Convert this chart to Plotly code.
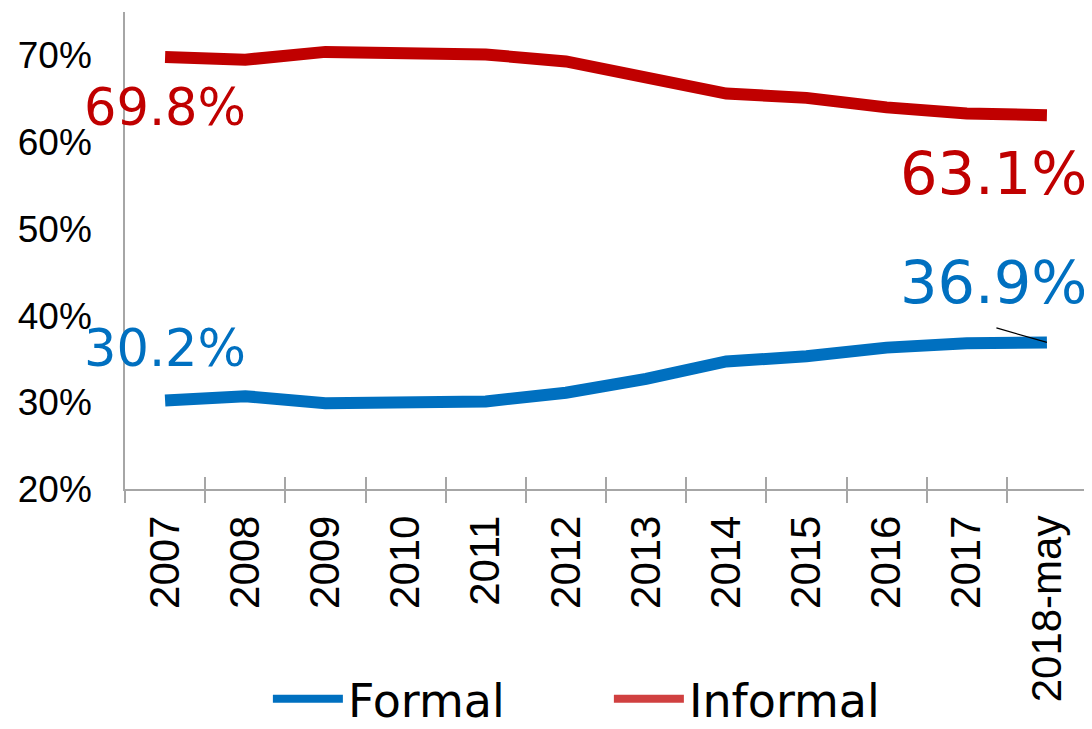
import plotly.graph_objects as go

categories = ["2007", "2008", "2009", "2010", "2011", "2012", "2013", "2014", "2015", "2016", "2017", "2018-may"]
formal = [30.2, 30.7, 29.9, 29.9, 30.1, 31.1, 32.7, 34.7, 35.3, 36.3, 36.8, 36.9]
informal = [69.8, 69.5, 70.4, 70.4, 70.1, 69.3, 67.4, 65.6, 65.1, 64.0, 63.3, 63.1]
series_names = ["Formal", "Informal"]
y_ticks = [20, 30, 40, 50, 60, 70]
y_tick_labels = ["20%", "30%", "40%", "50%", "60%", "70%"]

BLUE = "#0070C0"
RED = "#C00000"
RED_LEGEND = "#D04040"
AXIS = "#A6A6A6"

first = 0
last = len(categories) - 1

fig = go.Figure()
fig.add_trace(go.Scatter(x=categories, y=formal, mode="lines", name=series_names[0],
                         line=dict(color=BLUE, width=12), showlegend=False))
fig.add_trace(go.Scatter(x=categories, y=informal, mode="lines", name=series_names[1],
                         line=dict(color=RED, width=12), showlegend=False))
# legend entries
fig.add_trace(go.Scatter(x=[None], y=[None], mode="lines", name=series_names[0],
                         line=dict(color=BLUE, width=8)))
fig.add_trace(go.Scatter(x=[None], y=[None], mode="lines", name=series_names[1],
                         line=dict(color=RED_LEGEND, width=8)))
# overlay axis for inward tick marks
fig.add_trace(go.Scatter(x=categories, y=formal, xaxis="x2", mode="lines",
                         line=dict(width=0), showlegend=False, hoverinfo="skip", opacity=0))

lab_font = "DejaVu Sans"
fs_left = 51
fs_right = 59
fig.add_annotation(x=first, y=informal[first], text=f"{informal[first]:.1f}%", showarrow=False,
                   yshift=-50, font=dict(family=lab_font, size=fs_left, color=RED))
fig.add_annotation(x=first, y=formal[first], text=f"{formal[first]:.1f}%", showarrow=False,
                   yshift=52, font=dict(family=lab_font, size=fs_left, color=BLUE))
fig.add_annotation(x=last, y=informal[last], text=f"{informal[last]:.1f}%", showarrow=False,
                   xanchor="right", xshift=42, yshift=-58,
                   font=dict(family=lab_font, size=fs_right, color=RED))
fig.add_annotation(x=last, y=formal[last], text=f"{formal[last]:.1f}%", showarrow=False,
                   xanchor="right", xshift=42, yshift=60,
                   font=dict(family=lab_font, size=fs_right, color=BLUE))
# leader line
fig.add_annotation(x=last, y=formal[last], text="", showarrow=True, arrowhead=0,
                   arrowwidth=1.2, arrowcolor="black", ax=-52, ay=-15, standoff=0)

# the page places the figure 8px from the top-left corner, so margins compensate
fig.update_layout(
    width=1084, height=721,
    margin=dict(l=117, r=5, t=4, b=240, autoexpand=False),
    plot_bgcolor="white", paper_bgcolor="white",
    showlegend=True,
    legend=dict(orientation="h", x=0.503, xanchor="center", y=-0.44, yanchor="middle",
                font=dict(family="DejaVu Sans", size=46, color="black"),
                entrywidth=256, itemwidth=70, bgcolor="rgba(0,0,0,0)"),
    xaxis=dict(type="category", categoryorder="array", categoryarray=categories,
               range=[-0.5, len(categories) - 0.5], automargin=False,
               showline=True, linecolor=AXIS, linewidth=1.5,
               ticks="outside", ticklen=12, tickcolor=AXIS, tickwidth=1.5,
               tickson="boundaries", tickangle=-90, showgrid=False,
               tickfont=dict(family="Liberation Sans", size=42, color="black"),
               ticklabelstandoff=8),
    xaxis2=dict(type="category", categoryorder="array", categoryarray=categories,
                range=[-0.5, len(categories) - 0.5], overlaying="x", side="bottom",
                anchor="y", showline=False, ticks="inside", ticklen=12, tickcolor=AXIS,
                tickwidth=1.5, tickson="boundaries", showticklabels=False, showgrid=False,
                automargin=False),
    yaxis=dict(range=[20, 75], tickvals=y_ticks, ticktext=y_tick_labels, automargin=False,
               showline=True, linecolor=AXIS, linewidth=1.5, ticks="", showgrid=False,
               zeroline=False,
               tickfont=dict(family="Liberation Sans", size=37, color="black"),
               ticklabelstandoff=24),
)

fig.write_html("out.html")
